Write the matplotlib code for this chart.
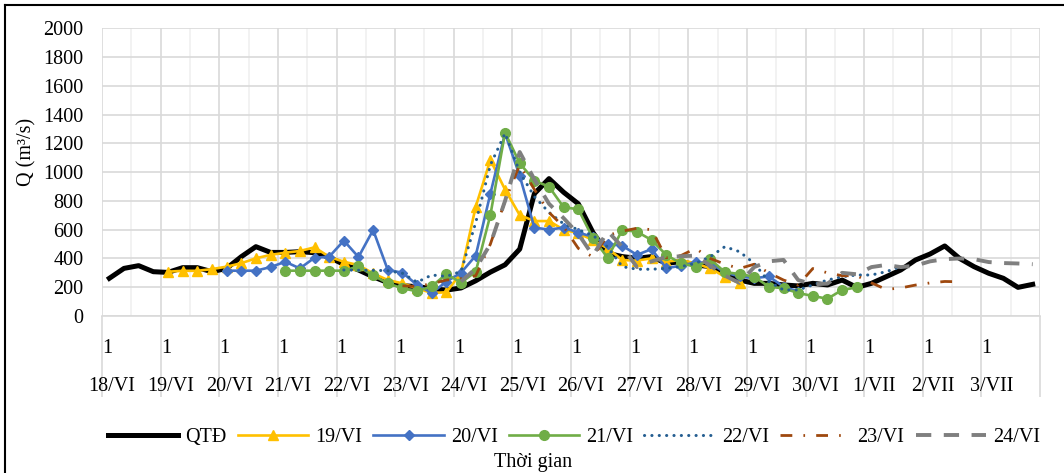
import numpy as np
import matplotlib.pyplot as plt
from matplotlib.lines import Line2D

plt.rcParams['font.family'] = ['Liberation Serif', 'DejaVu Serif']
plt.rcParams['lines.scale_dashes'] = False

# Ngày (4 giá trị mỗi ngày, cách 6 giờ)
days = ['18/VI', '19/VI', '20/VI', '21/VI', '22/VI', '23/VI', '24/VI', '25/VI',
        '26/VI', '27/VI', '28/VI', '29/VI', '30/VI', '1/VII', '2/VII', '3/VII']
hour_labels = ['1'] * len(days)
per_day = 4

# Lưu lượng thực đo
qtd = [262, 331, 350, 308, 303, 336, 336, 308, 331, 412, 482, 442, 442, 447, 440, 408,
       359, 320, 273, 232, 211, 204, 190, 180, 195, 245, 305, 356, 465, 850, 955, 860,
       780, 580, 436, 413, 401, 413, 366, 378, 355, 343, 297, 250, 227, 227, 216, 209,
       227, 216, 250, 199, 227, 273, 320, 389, 431, 487, 401, 343, 297, 262, 199, 220]

# Các bản tin dự báo: (chỉ số bắt đầu, giá trị)
f19_start = 4
f19 = [308, 314, 314, 326, 343, 367, 401, 425, 440, 452, 477, 412, 377, 354, 296, 250,
       227, 192, 160, 165, 300, 760, 1085, 879, 702, 660, 660, 600, 575, 528, 470, 389,
       385, 401, 378, 389, 366, 331, 273, 227]
f20_start = 8
f20 = [315, 315, 315, 340, 377, 331, 405, 412, 524, 410, 598, 320, 301, 216, 160, 239,
       301, 420, 851, 1270, 975, 615, 600, 615, 580, 550, 500, 488, 425, 465, 332, 350,
       373, 368, 303, 275, 263, 275, 204, 170]
f21_start = 12
f21 = [315, 315, 315, 315, 315, 345, 282, 227, 192, 172, 206, 292, 232, 308, 702, 1275,
       1062, 941, 899, 756, 742, 540, 405, 598, 586, 528, 424, 366, 343, 394, 305, 292,
       273, 204, 192, 160, 139, 120, 181, 199]
f22_start = 16
f22 = [320, 318, 318, 315, 297, 235, 285, 275, 310, 650, 1050, 1270, 1000, 830, 720, 640,
       600, 560, 480, 343, 325, 325, 331, 343, 366, 412, 482, 447, 366, 239, 181, 181,
       216, 250, 273, 285, 285, 308, 343]
f23_start = 20
f23 = [210, 205, 225, 250, 260, 280, 500, 800, 1050, 880, 720, 620, 470, 410, 560, 590,
       610, 600, 405, 420, 470, 400, 360, 330, 360, 300, 250, 215, 330, 300, 280, 280,
       230, 185, 195, 215, 230, 240, 238]
f24_start = 24
f24 = [240, 330, 500, 800, 1140, 950, 780, 680, 570, 420, 590, 480, 340, 380, 410, 415,
       420, 350, 280, 230, 340, 380, 390, 250, 220, 225, 300, 290, 340, 355, 340, 350,
       380, 395, 400, 395, 375, 368, 365, 360]

n = len(days) * per_day

fig = plt.figure(figsize=(10.64, 4.73), dpi=100)
ax = fig.add_axes([102 / 1064, 1 - 316 / 473, 938 / 1064, 287.7 / 473])

ax.plot(np.arange(n), qtd, color='black', lw=3.6, solid_joinstyle='round',
        label='QTĐ', zorder=3)
ax.plot(np.arange(f19_start, f19_start + len(f19)), f19, color='#FFC000', lw=1.9,
        marker='^', ms=6.5, label='19/VI', zorder=4)
ax.plot(np.arange(f20_start, f20_start + len(f20)), f20, color='#4472C4', lw=1.9,
        marker='D', ms=5, label='20/VI', zorder=5)
ax.plot(np.arange(f21_start, f21_start + len(f21)), f21, color='#70AD47', lw=1.9,
        marker='o', ms=7, label='21/VI', zorder=6)
ax.plot(np.arange(f22_start, f22_start + len(f22)), f22, color='#255E91', lw=2.2,
        linestyle=(0, (0.1, 5.2)), dash_capstyle='round', label='22/VI', zorder=7)
ax.plot(np.arange(f23_start, f23_start + len(f23)), f23, color='#9E480E', lw=2.0,
        linestyle=(0, (8.5, 8, 1.2, 8)), label='23/VI', zorder=8)
ax.plot(np.arange(f24_start, f24_start + len(f24)), f24, color='#7F7F7F', lw=2.8,
        linestyle=(0, (11, 9)), label='24/VI', zorder=9)

ax.set_xlim(-0.5, n - 0.5)
ax.set_ylim(0, 2000)
ax.set_yticks(np.arange(0, 2001, 200))
ax.set_xticks(np.arange(-0.5, n, per_day))
ax.set_xticks(np.arange(1.5, n, per_day), minor=True)
ax.set_xticklabels([])
ax.tick_params(axis='x', which='major', length=58, color='#D9D9D9', width=1.2)
ax.tick_params(axis='x', which='minor', length=0)
ax.tick_params(axis='y', length=0, labelsize=14.5, pad=13.5)

ax.grid(True, which='major', color='#D9D9D9', lw=1.2, zorder=0)
ax.grid(True, which='minor', axis='x', color='#F0F0F0', lw=1.2, zorder=0)
ax.set_axisbelow(True)
for side in ['left', 'right', 'top']:
    ax.spines[side].set_visible(False)
ax.spines['bottom'].set_color('#D9D9D9')
ax.spines['bottom'].set_linewidth(1.2)

# Nhãn trục thời gian hai tầng
for d, (day, hr) in enumerate(zip(days, hour_labels)):
    x0 = d * per_day - 0.5
    ax.text(x0 + 0.36, -0.112, hr, transform=ax.get_xaxis_transform(),
            ha='center', va='center', fontsize=14.5)
    ax.text(x0 + 0.68, -0.245, day, transform=ax.get_xaxis_transform(),
            ha='center', va='center', fontsize=14.5)

fig.text(27 / 1064, 1 - 152 / 473, 'Q (m³/s)', rotation=90, ha='center', va='center',
         fontsize=14.5)
fig.text(533 / 1064, 1 - 462 / 473, 'Thời gian', ha='center', va='center', fontsize=14.5)

leg = fig.legend(loc='center', bbox_to_anchor=(574 / 1064, 1 - 437 / 473), ncol=7,
                 frameon=False, fontsize=14.5, handlelength=3.5, handletextpad=0.35,
                 columnspacing=0.55, borderpad=0)

# Khung viền
fig.add_artist(Line2D([5 / 1064, 1], [1 - 5 / 473, 1 - 5 / 473], color='black', lw=1.5,
                      transform=fig.transFigure))
fig.add_artist(Line2D([5 / 1064, 5 / 1064], [0, 1 - 5 / 473], color='black', lw=1.5,
                      transform=fig.transFigure))

fig.savefig('out.png', dpi=100)
